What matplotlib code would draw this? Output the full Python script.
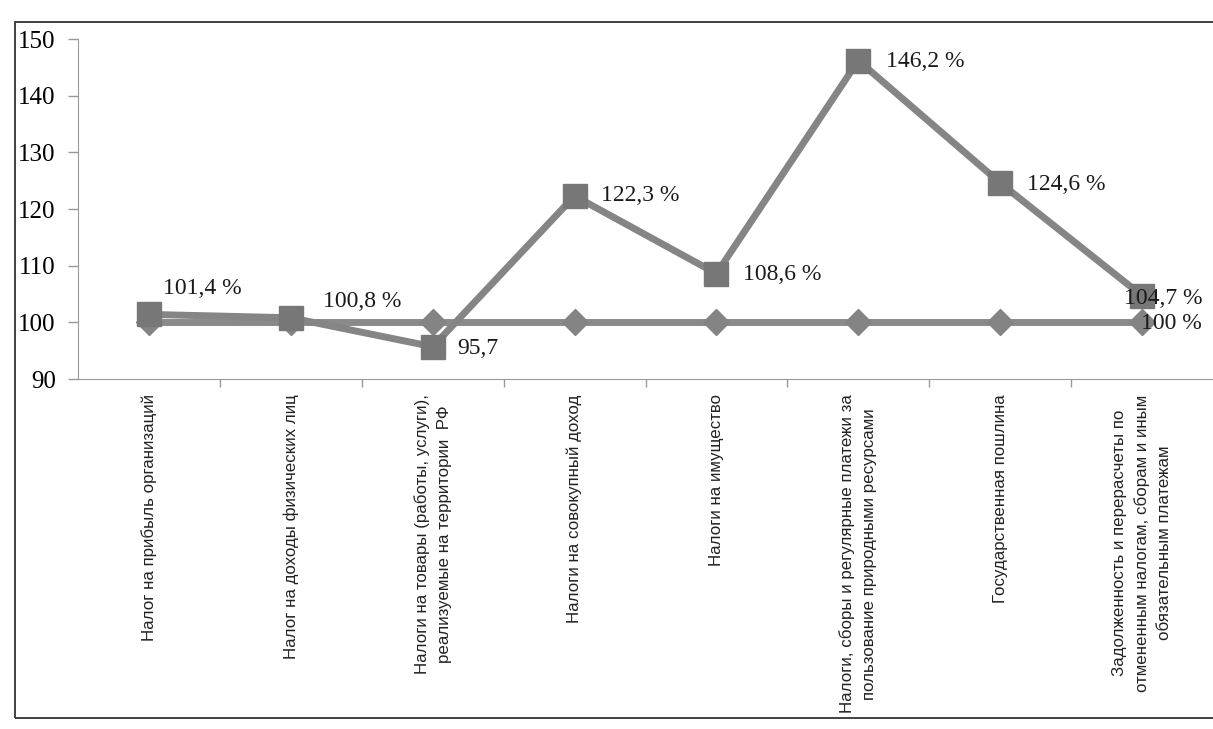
import matplotlib
matplotlib.use("Agg")
import matplotlib.pyplot as plt
from matplotlib.patches import Rectangle

categories = [
    "Налог на прибыль организаций",
    "Налог на доходы физических лиц",
    "Налоги на товары (работы, услуги),\nреализуемые на территории  РФ",
    "Налоги на совокупный доход",
    "Налоги на имущество",
    "Налоги, сборы и регулярные платежи за\nпользование природными ресурсами",
    "Государственная пошлина",
    "Задолженность и перерасчеты по\nотмененным налогам, сборам и иным\nобязательным платежам",
]
growth_values = [101.4, 100.8, 95.7, 122.3, 108.6, 146.2, 124.6, 104.7]
growth_labels = ["101,4 %", "100,8 %", "95,7", "122,3 %", "108,6 %", "146,2 %", "124,6 %", "104,7 %"]
base_values = [100, 100, 100, 100, 100, 100, 100, 100]
base_last_label = "100 %"
y_ticks = [90, 100, 110, 120, 130, 140, 150]

W, H = 1213, 729
fig = plt.figure(figsize=(W / 100, H / 100), dpi=100)
fig.patch.set_facecolor("white")

# outer chart border
fig.add_artist(Rectangle((15 / W, (H - 718) / H), (W + 20) / W, (718 - 22) / H,
                         transform=fig.transFigure, fill=False, edgecolor="#333333", lw=1.3))

ax = fig.add_axes([78 / W, (H - 379) / H, (W - 78) / W, (379 - 39) / H])
x = list(range(len(categories)))

ax.plot(x, base_values, color="#8a8a8a", lw=5, marker="D", markersize=13,
        markerfacecolor="#848484", markeredgecolor="#848484", zorder=3)
ax.plot(x, growth_values, color="#858585", lw=5, marker="s", markersize=17,
        markerfacecolor="#777777", markeredgecolor="#777777", zorder=4)

label_kw = dict(textcoords="offset points", ha="left", va="center", fontsize=17,
                family="Liberation Serif", color="#1a1a1a", zorder=6)
offsets = [(10, 19), (23, 12), (18, -1), (19, 0), (19, -1), (20, -1), (19, -1), (-13, -2)]
for xi, v, lab, off in zip(x, growth_values, growth_labels, offsets):
    ax.annotate(lab, (xi, v), xytext=off, **label_kw)
ax.annotate(base_last_label, (x[-1], base_values[-1]), xytext=(-1, -1), **label_kw)

ax.set_xlim(-0.5, len(categories) - 0.5)
ax.set_ylim(90, 150)
ax.set_yticks(y_ticks)
ax.set_yticklabels([str(t) for t in y_ticks], family="Liberation Serif", fontsize=18, color="#000000")
ax.tick_params(axis="y", direction="out", length=7, width=1, color="#999999", pad=9)

ax.set_xticks([i + 0.5 for i in x[:-1]])
ax.set_xticklabels([])
ax.tick_params(axis="x", direction="out", length=6, width=1, color="#999999")

for i, cat in enumerate(categories):
    ax.text(i, -0.045, cat, transform=ax.get_xaxis_transform(), rotation=90,
            ha="center", va="top", multialignment="center", fontsize=12.2,
            family="Liberation Sans", color="#222222", linespacing=1.6)

for s in ["top", "right"]:
    ax.spines[s].set_visible(False)
ax.spines["left"].set_color("#999999")
ax.spines["bottom"].set_color("#999999")
ax.set_facecolor("white")

fig.savefig("out.png", dpi=100, facecolor="white")
